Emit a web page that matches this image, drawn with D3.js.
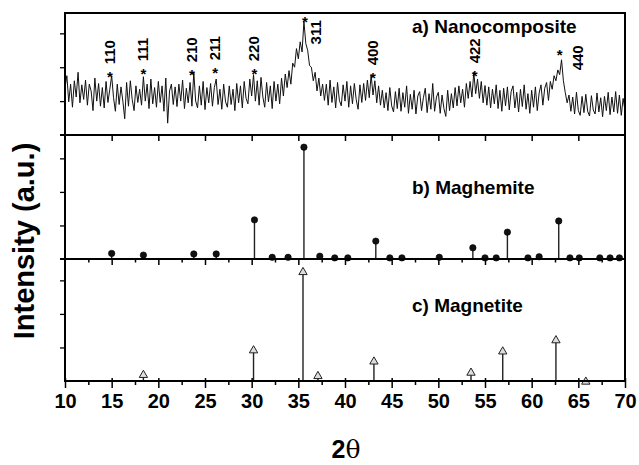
<!DOCTYPE html>
<html>
<head>
<meta charset="utf-8">
<script src="https://cdn.jsdelivr.net/npm/d3@7"></script>
<style>
  body { margin: 0; background: #fff; }
  text { font-family: "Liberation Sans", Arial, sans-serif; font-weight: bold; fill: #000; }
</style>
</head>
<body>
<svg id="chart"></svg>
<script>
// a) nanocomposite pattern, 2theta from 10 to 70 in 0.2 steps (counts, a.u.)
const scanStart = 10, scanStep = 0.2
const nanoCounts = [
  140,175,98,150,82,160,112,185,95,148,
  105,162,88,150,130,72,168,100,152,85,
  140,80,158,96,135,175,110,70,150,90,
  142,100,48,155,85,160,105,72,145,96,
  135,88,172,100,150,78,165,92,140,82,
  158,96,145,70,168,35,130,150,90,142,
  84,150,100,162,78,138,95,155,85,185,
  100,80,145,88,158,75,140,95,152,85,
  140,165,90,135,76,150,98,82,145,90,
  135,72,152,95,145,80,158,108,92,165,
  115,178,100,160,88,170,112,82,155,98,
  145,78,158,100,150,92,168,115,180,140,
  190,150,212,200,255,225,275,245,335,270,
  250,205,200,160,185,130,168,115,150,102,
  150,88,162,96,142,80,155,102,86,148,
  100,158,82,145,92,152,105,76,148,96,
  152,102,162,110,178,118,160,95,145,88,
  132,80,125,72,140,86,68,128,78,138,
  70,125,82,145,64,120,76,132,62,115,
  128,72,110,138,66,122,76,152,70,112,
  126,64,118,78,55,132,72,122,80,140,
  86,145,95,135,82,152,108,158,112,185,
  122,165,108,158,95,146,88,142,80,135,
  92,148,78,132,70,138,86,142,74,128,
  145,80,126,68,135,84,148,76,122,64,
  132,82,142,72,124,148,88,138,155,102,
  158,135,175,160,192,178,222,160,125,95,
  118,70,112,62,126,72,58,114,66,120,
  70,56,116,74,62,124,68,110,54,114,
  72,126,60,112,68,128,64,118,58,108,
  72
]

// reflection labels on the nanocomposite pattern
const hklLabels = ["110","111","210","211","220","311","400","422","440"]
const hklPos    = [14.8, 18.4, 23.6, 26.1, 30.3, 35.7, 43.0, 53.9, 63.0]
const hklLevel  = [176, 185, 182, 188, 185, 338, 173, 179, 241]

// b) maghemite reference lines
const maghPos = [15.0,18.4,23.8,26.2,30.3,32.2,33.9,35.6,37.3,38.9,40.3,43.3,44.8,46.1,50.1,53.7,55.0,56.2,57.4,59.6,60.8,62.9,64.1,65.1,67.3,68.4,69.4]
const maghInt = [5,3.5,4.5,4.5,35,1.5,1.5,100,2.5,1,1,16,1,1,1.5,10,1,1,24,1,2,34,1,1,1,1,1]

// c) magnetite reference lines
const magnPos = [18.4,30.2,35.5,37.1,43.1,53.5,56.9,62.6,65.8]
const magnInt = [8,30,100,7,20,10,29,39,2]

const panelTitles = ["a) Nanocomposite","b) Maghemite","c) Magnetite"]
const xTickMajor = [10,15,20,25,30,35,40,45,50,55,60,65,70]

const width = 639, height = 465
const mLeft = 65, mRight = 625, mTop = 13, mBottom = 381

const svg = d3.select("#chart").attr("width", width).attr("height", height)

const x = d3.scaleLinear().domain([10, 70]).range([mLeft, mRight])
const yA = d3.scaleLinear().domain([0, 360]).range([135, mTop])
const yB = d3.scaleLinear().domain([0, 110]).range([259, 136])
const yC = d3.scaleLinear().domain([0, 110]).range([mBottom, 258])

// left axes, one per panel
function leftAxis(scale, vals){
  svg.append("g")
     .attr("transform", `translate(${mLeft},0)`)
     .call(d3.axisLeft(scale).tickValues(vals).tickFormat("").tickSize(5).tickSizeOuter(0))
     .call(g => g.select(".domain").remove())
     .selectAll("line").attr("stroke-width", 1.3)
}
leftAxis(yA, [100, 200, 300])
leftAxis(yB, [30, 60, 90])
leftAxis(yC, [30, 60, 90])

// ticks along the panel dividers
svg.append("g")
   .attr("transform", "translate(0,135)")
   .call(d3.axisBottom(x).tickValues(xTickMajor.slice(1, -1)).tickFormat("").tickSize(6).tickSizeOuter(0))
   .call(g => g.select(".domain").remove())
   .selectAll("line").attr("stroke-width", 1.5)

const minorVals = d3.range(10, 70.01, 2.5)
svg.append("g")
   .attr("transform", "translate(0,259)")
   .call(d3.axisBottom(x).tickValues(minorVals.slice(1, -1)).tickFormat("").tickSize(6).tickSizeOuter(0))
   .call(g => g.select(".domain").remove())
   .selectAll(".tick line")
   .attr("y2", d => d % 5 === 0 ? 6 : 3.5)
   .attr("stroke-width", 1.5)

// bottom axis
const xAxis = svg.append("g")
   .attr("transform", `translate(0,${mBottom})`)
   .call(d3.axisBottom(x).tickValues(minorVals)
            .tickFormat(d => d % 5 === 0 ? d : "").tickSize(6).tickSizeOuter(0))
xAxis.select(".domain").remove()
xAxis.selectAll(".tick line")
   .attr("y1", d => d % 5 === 0 ? -3 : 0)
   .attr("y2", d => d % 5 === 0 ? 7 : 4)
   .attr("stroke-width", 1.5)
xAxis.selectAll(".tick text")
   .attr("y", 13)
   .style("font-size", "20px")
   .style("font-family", "'Liberation Sans', Arial, sans-serif")
   .style("font-weight", "bold")

// a) noisy pattern
const line = d3.line()
   .x((d, i) => x(scanStart + i * scanStep))
   .y(d => yA(d))
svg.append("path")
   .datum(nanoCounts)
   .attr("d", line)
   .attr("fill", "none")
   .attr("stroke", "#111")
   .attr("stroke-width", 1)

// stars + hkl labels
const hkl = svg.append("g").selectAll("g")
   .data(hklLabels.map((t, i) => ({t, p: hklPos[i], v: hklLevel[i]})))
   .join("g")
   .attr("transform", d => `translate(${x(d.p)},${yA(d.v)})`)
hkl.append("text")
   .attr("y", 7)
   .attr("text-anchor", "middle")
   .style("font-size", "15px")
   .text("*")
hkl.append("text")
   .attr("transform", d => {
     if (d.t === "311") return "translate(16,24) rotate(-90)"
     if (d.t === "440") return "translate(23,17) rotate(-90)"
     return "translate(5,-11) rotate(-90)"
   })
   .style("font-size", "15px")
   .text(d => d.t)

// b) maghemite sticks with ball markers
const magh = maghPos.map((p, i) => ({p, v: maghInt[i]}))
svg.append("g").selectAll("line")
   .data(magh).join("line")
   .attr("x1", d => x(d.p)).attr("x2", d => x(d.p))
   .attr("y1", yB(0)).attr("y2", d => yB(d.v))
   .attr("stroke", "#222").attr("stroke-width", 1.4)
svg.append("g").selectAll("circle")
   .data(magh).join("circle")
   .attr("cx", d => x(d.p)).attr("cy", d => yB(d.v))
   .attr("r", 3.2)
   .attr("fill", "#111").attr("stroke", "#000").attr("stroke-width", 0.6)

// c) magnetite sticks with triangle markers
const magn = magnPos.map((p, i) => ({p, v: magnInt[i]}))
svg.append("g").selectAll("line")
   .data(magn).join("line")
   .attr("x1", d => x(d.p)).attr("x2", d => x(d.p))
   .attr("y1", yC(0)).attr("y2", d => yC(d.v))
   .attr("stroke", "#222").attr("stroke-width", 1.4)
svg.append("g").selectAll("path")
   .data(magn).join("path")
   .attr("d", d3.symbol(d3.symbolTriangle, 30))
   .attr("transform", d => `translate(${x(d.p)},${yC(d.v) + 3})`)
   .attr("fill", "#ddd").attr("stroke", "#222").attr("stroke-width", 1)

// frame and dividers
svg.append("rect")
   .attr("x", mLeft).attr("y", mTop)
   .attr("width", mRight - mLeft).attr("height", mBottom - mTop)
   .attr("fill", "none").attr("stroke", "#000").attr("stroke-width", 2)
svg.append("g").selectAll("line")
   .data([yA(0), yB(0)]).join("line")
   .attr("x1", mLeft - 5).attr("x2", mRight)
   .attr("y1", d => d).attr("y2", d => d)
   .attr("stroke", "#000").attr("stroke-width", 2)

// panel titles
svg.append("g").selectAll("text")
   .data(panelTitles).join("text")
   .attr("x", 412)
   .attr("y", (d, i) => [33, 194, 312][i])
   .style("font-size", "19px")
   .text(d => d)

// axis titles
svg.append("text")
   .attr("transform", "translate(34,241) rotate(-90)")
   .attr("text-anchor", "middle")
   .style("font-size", "29px")
   .text("Intensity (a.u.)")

const xTitle = svg.append("text")
   .attr("x", 346).attr("y", 458)
   .attr("text-anchor", "middle")
   .style("font-size", "25px")
xTitle.append("tspan").text("2")
xTitle.append("tspan").style("font-weight", "normal")
   .style("font-family", "'DejaVu Serif', serif").text("θ")
</script>
</body>
</html>
